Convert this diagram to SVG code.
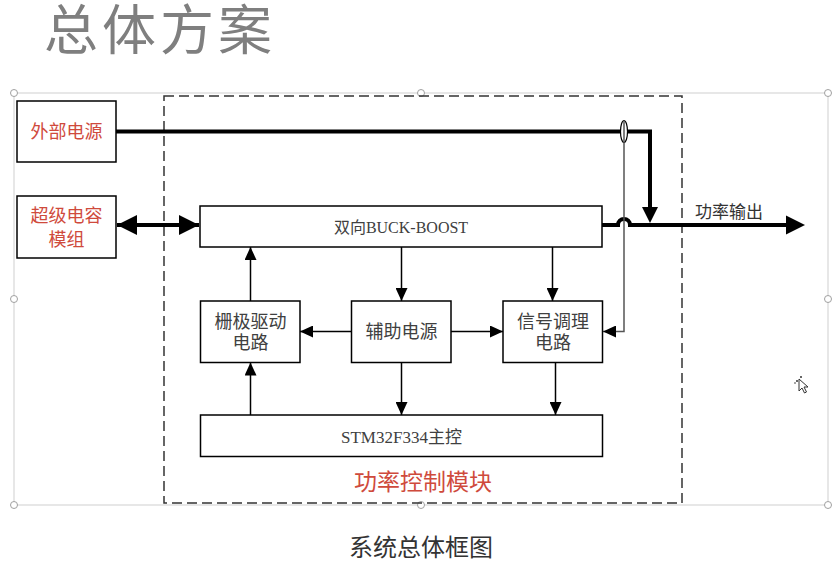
<svg xmlns="http://www.w3.org/2000/svg" width="836" height="566" viewBox="0 0 836 566">
<defs>
<style>
.box{fill:#fff;stroke:#000;stroke-width:1.5}
.t{font-family:"Liberation Serif","Noto Sans CJK SC",serif;fill:#404040;text-anchor:middle}
.red{fill:#cf4a3c}
.thin{stroke:#000;stroke-width:1.5;fill:none}
.thick{stroke:#000;stroke-width:4;fill:none}
.h{fill:#fff;stroke:#a0a0a0;stroke-width:1}
</style>
<marker id="a" markerUnits="userSpaceOnUse" markerWidth="13" markerHeight="12" refX="13" refY="6" orient="auto-start-reverse"><path d="M0,0 L13,6 L0,12 z" fill="#000"/></marker>
<marker id="b" markerUnits="userSpaceOnUse" markerWidth="20" markerHeight="20" refX="20" refY="10" orient="auto-start-reverse"><path d="M0,0 L20,10 L0,20 z" fill="#000"/></marker>
</defs>
<rect width="836" height="566" fill="#fff"/>
<text x="44" y="50" style="font-family:'Noto Sans CJK SC','Liberation Sans',sans-serif;font-size:54px;letter-spacing:4px;fill:#7f7f7f">总体方案</text>
<g id="frame">
<rect x="14" y="93" width="814" height="412" fill="none" stroke="#cfcfcf" stroke-width="1"/>
<circle class="h" cx="14" cy="93" r="3.5"/><circle class="h" cx="421" cy="93" r="3.5"/><circle class="h" cx="828" cy="93" r="3.5"/>
<circle class="h" cx="14" cy="299" r="3.5"/><circle class="h" cx="828" cy="299" r="3.5"/>
<circle class="h" cx="14" cy="505" r="3.5"/><circle class="h" cx="421" cy="505" r="3.5"/><circle class="h" cx="828" cy="505" r="3.5"/>
</g>
<g id="module">
<rect x="164" y="96" width="518" height="407" fill="none" stroke="#333" stroke-width="1.5" stroke-dasharray="10,5"/>
<text class="t red" x="423" y="490" style="font-size:23px">功率控制模块</text>
</g>
<g id="connectors">
<path class="thick" d="M116,131.5 H650 V207"/>
<path d="M642,207 L658,207 L650,223 z" fill="#000"/>
<ellipse cx="624" cy="131.5" rx="3.5" ry="11" fill="#fff" stroke="#000" stroke-width="1.2"/>
<path class="thick" d="M602,225 H618 A6,6 0 0 1 630,225 H787"/>
<path d="M786,215.5 L805,225 L786,234.5 z" fill="#000"/>
<path d="M624,120.5 V331.5 H603" stroke="#555" stroke-width="1.5" fill="none" marker-end="url(#a)"/>
<line class="thick" x1="117" y1="225" x2="199" y2="225" marker-start="url(#b)" marker-end="url(#b)"/>
<line class="thin" x1="401.5" y1="247" x2="401.5" y2="301" marker-end="url(#a)"/>
<line class="thin" x1="552.5" y1="247" x2="552.5" y2="301" marker-end="url(#a)"/>
<line class="thin" x1="250.5" y1="301" x2="250.5" y2="247" marker-end="url(#a)"/>
<line class="thin" x1="351.5" y1="331.5" x2="300" y2="331.5" marker-end="url(#a)"/>
<line class="thin" x1="451" y1="331.5" x2="503" y2="331.5" marker-end="url(#a)"/>
<line class="thin" x1="401.5" y1="362.5" x2="401.5" y2="415" marker-end="url(#a)"/>
<line class="thin" x1="555.5" y1="362.5" x2="555.5" y2="415" marker-end="url(#a)"/>
<line class="thin" x1="250.5" y1="415" x2="250.5" y2="362.5" marker-end="url(#a)"/>
<text class="t" x="729" y="217.5" style="font-size:17px;fill:#333">功率输出</text>
</g>
<g id="ext">
<rect class="box" x="17" y="101" width="99" height="61"/>
<text class="t red" x="66.5" y="138" style="font-size:18px">外部电源</text>
</g>
<g id="cap">
<rect class="box" x="17" y="196" width="99" height="62"/>
<text class="t red" x="66.5" y="222" style="font-size:18px">超级电容</text>
<text class="t red" x="66.5" y="245.5" style="font-size:18px">模组</text>
</g>
<g id="buck">
<rect class="box" x="200" y="206" width="402" height="41"/>
<text class="t" x="401" y="232.5" style="font-size:16px">双向BUCK-BOOST</text>
</g>
<g id="gate">
<rect class="box" x="200.5" y="301" width="99.5" height="61.5"/>
<text class="t" x="250.5" y="328" style="font-size:18px">栅极驱动</text>
<text class="t" x="250.5" y="349" style="font-size:18px">电路</text>
</g>
<g id="aux">
<rect class="box" x="351.5" y="301" width="99.5" height="61.5"/>
<text class="t" x="401.5" y="338" style="font-size:18px">辅助电源</text>
</g>
<g id="sig">
<rect class="box" x="503" y="301" width="99.5" height="61.5"/>
<text class="t" x="553" y="328" style="font-size:18px">信号调理</text>
<text class="t" x="553" y="349" style="font-size:18px">电路</text>
</g>
<g id="mcu">
<rect class="box" x="200.5" y="415" width="402" height="41.5"/>
<text class="t" x="401.5" y="442.5" style="font-size:17px">STM32F334主控</text>
</g>
<text class="t" x="421" y="556" style="font-size:24px;fill:#333">系统总体框图</text>
<g id="cursor">
<path d="M799,379 L799,391 L802,388 L804.5,393 L806.5,392 L804,387 L808,387 z" fill="#fff" stroke="#333" stroke-width="1"/>
<circle cx="797" cy="381" r="1" fill="#333"/><circle cx="801" cy="377" r="1" fill="#333"/><circle cx="795" cy="383" r="0.8" fill="#333"/>
</g>
</svg>
